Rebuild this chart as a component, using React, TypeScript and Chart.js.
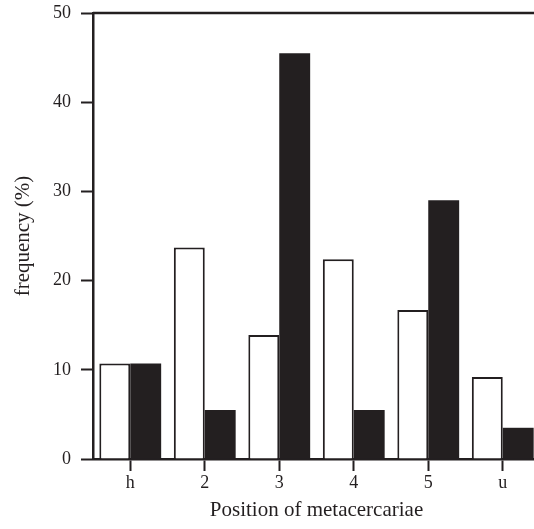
import React, { useEffect, useRef } from "react";
import { Chart, registerables } from "chart.js";

Chart.register(...registerables);

const categories = ["h", "2", "3", "4", "5", "u"];
const openSeries = [10.7, 23.7, 13.9, 22.4, 16.7, 9.2];
const filledSeries = [10.7, 5.5, 45.5, 5.5, 29.0, 3.5];
const yTicks = [0, 10, 20, 30, 40, 50];

const INK = "#231f20";
const FONT = "'Liberation Serif', 'Times New Roman', serif";

const topLine = {
  id: "topLine",
  afterDraw(chart: any) {
    const { ctx, chartArea } = chart;
    ctx.save();
    ctx.strokeStyle = INK;
    ctx.lineWidth = 2.5;
    ctx.beginPath();
    ctx.moveTo(chartArea.left, chartArea.top);
    ctx.lineTo(chartArea.right + 10, chartArea.top);
    ctx.stroke();
    ctx.restore();
  },
};

export default function App() {
  const ref = useRef<HTMLCanvasElement | null>(null);
  useEffect(() => {
    if (!ref.current) return;
    const chart = new Chart(ref.current, {
      type: "bar",
      data: {
        labels: categories,
        datasets: [
          {
            data: openSeries,
            backgroundColor: "#ffffff",
            borderColor: INK,
            borderWidth: 2,
            barPercentage: 1,
            categoryPercentage: 0.83,
          },
          {
            data: filledSeries,
            backgroundColor: INK,
            borderWidth: 0,
            barPercentage: 1,
            categoryPercentage: 0.83,
          },
        ],
      },
      plugins: [topLine],
      options: {
        responsive: false,
        animation: false,
        layout: { padding: { top: 13, right: 0, left: 0, bottom: 0 } },
        plugins: { legend: { display: false }, tooltip: { enabled: false } },
        scales: {
          x: {
            offset: true,
            grid: {
              offset: false,
              drawOnChartArea: false,
              drawTicks: true,
              tickLength: 12,
              tickWidth: 2,
              tickColor: INK,
            },
            border: { display: true, color: INK, width: 2.5 },
            ticks: {
              color: INK,
              padding: 1,
              font: { family: FONT, size: 18 },
            },
            title: {
              display: true,
              text: "Position of metacercariae",
              color: INK,
              font: { family: FONT, size: 21 },
              padding: { top: 0, bottom: 6 },
            },
            afterFit(scale: any) {
              scale.height = 70;
              scale.paddingLeft = 0;
              scale.paddingRight = 0;
            },
          },
          y: {
            min: 0,
            max: 50,
            afterBuildTicks(scale: any) {
              scale.ticks = yTicks.map((v) => ({ value: v }));
            },
            grid: {
              drawOnChartArea: false,
              drawTicks: true,
              tickLength: 12,
              tickWidth: 2,
              tickColor: INK,
            },
            border: { display: true, color: INK, width: 2.5 },
            ticks: {
              color: INK,
              padding: 10,
              font: { family: FONT, size: 18 },
            },
            title: {
              display: true,
              text: "frequency (%)",
              color: INK,
              font: { family: FONT, size: 21 },
              padding: { top: 11, bottom: 0 },
            },
            afterFit(scale: any) {
              scale.width = 93;
              scale.paddingTop = 0;
              scale.paddingBottom = 0;
            },
          },
        },
      },
    });
    return () => chart.destroy();
  }, []);
  return (
    <div
      style={{
        position: "absolute",
        left: 0,
        top: 0,
        width: 534,
        height: 529,
        overflow: "hidden",
        background: "#fff",
      }}
    >
      <canvas ref={ref} width={540} height={529} style={{ display: "block" }} />
    </div>
  );
}
